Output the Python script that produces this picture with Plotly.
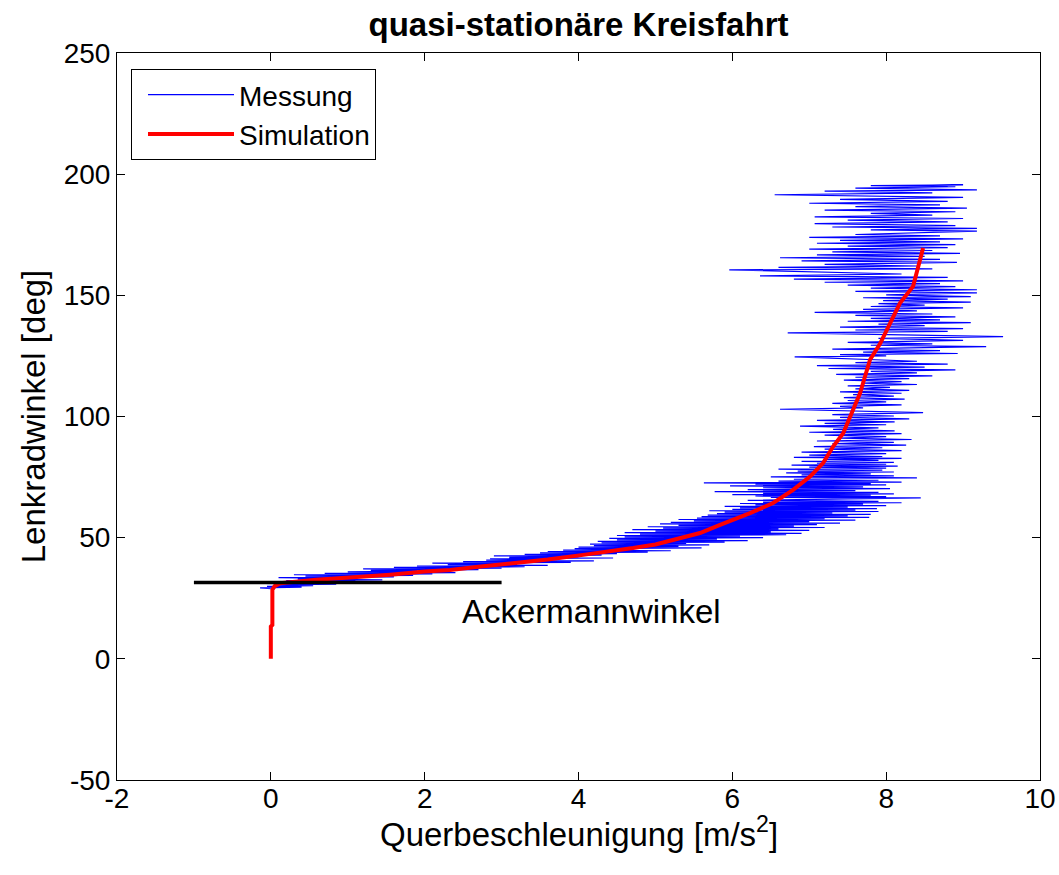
import plotly.graph_objects as go

# ---------------- data ----------------
meas_x = [
    0.00, -0.14, 0.40, -0.05, 0.55, 0.05, 0.85, -0.10, 0.70, 0.15,
    1.10, 0.20, 1.45, 0.35, 0.95, 0.10, 1.60, 0.45, 1.85, 0.30,
    2.10, 0.70, 2.40, 1.00, 1.90, 1.30, 2.70, 1.20, 3.00, 1.60,
    3.30, 1.90, 3.60, 2.30, 3.20, 2.10, 3.90, 2.50, 4.20, 2.80,
    3.70, 2.85, 4.45, 3.10, 4.00, 2.90, 4.30, 3.30, 4.50, 3.50,
    4.90, 3.60, 5.20, 3.80, 4.70, 3.95, 5.60, 4.00, 5.30, 4.20,
    5.70, 4.15, 5.40, 4.30, 5.90, 4.25, 6.20, 4.50, 5.80, 4.40,
    6.40, 4.60, 6.10, 4.50, 6.70, 4.80, 6.90, 4.60, 6.50, 5.00,
    7.00, 4.70, 6.60, 5.10, 7.20, 4.90, 6.80, 5.30, 7.10, 5.06,
    7.40, 5.20, 7.00, 5.50, 7.60, 5.30, 7.20, 5.54, 7.78, 5.60,
    7.50, 5.68, 7.80, 5.80, 7.30, 5.90, 7.90, 5.70, 7.60, 6.00,
    7.88, 6.10, 7.50, 5.90, 8.00, 6.30, 7.70, 6.10, 8.20, 6.40,
    7.90, 6.20, 8.45, 6.50, 8.00, 6.30, 7.80, 6.00, 8.10, 6.40,
    7.90, 5.77, 7.60, 6.20, 8.05, 6.40, 7.70, 5.97, 8.00, 6.30,
    7.80, 5.63, 8.20, 6.60, 7.90, 6.80, 8.40, 6.50, 8.10, 6.90,
    7.80, 6.70, 8.10, 6.85, 7.95, 6.60, 8.00, 7.00, 8.15, 6.77,
    8.00, 7.10, 8.10, 6.90, 7.90, 7.20, 8.20, 6.80, 7.95, 7.15,
    7.00, 8.00, 6.90, 8.20, 7.20, 7.95, 7.06, 8.26, 7.30, 8.10,
    7.10, 8.33, 7.40, 8.00, 7.20, 8.20, 7.00, 8.11, 7.31, 7.90,
    6.88, 8.00, 7.20, 8.11, 7.10, 8.30, 7.40, 8.10, 7.30, 8.48,
    7.60, 6.62, 7.70, 7.40, 8.20, 7.30, 8.00, 7.50, 8.24, 7.45,
    8.10, 7.57, 8.20, 7.40, 8.30, 7.60, 8.05, 7.50, 8.40, 7.70,
    8.20, 7.45, 8.30, 7.60, 8.60, 7.35, 8.40, 7.80, 8.90, 7.25,
    8.50, 7.10, 8.80, 7.60, 8.40, 6.81, 8.00, 7.40, 8.93, 7.70,
    8.70, 7.30, 9.30, 7.80, 8.60, 7.50, 9.00, 7.90, 9.52, 6.72,
    8.80, 7.60, 9.00, 7.40, 8.50, 7.90, 9.10, 7.50, 8.70, 7.80,
    8.90, 7.60, 8.60, 7.07, 8.40, 7.70, 9.00, 7.80, 8.50, 7.90,
    9.10, 7.96, 8.80, 7.70, 9.10, 8.00, 9.18, 7.60, 9.18, 7.80,
    8.90, 7.50, 8.70, 7.20, 9.00, 6.80, 8.80, 6.36, 8.20, 5.96,
    8.60, 6.60, 8.40, 7.20, 8.92, 6.90, 8.70, 6.62, 8.50, 7.10,
    8.96, 7.30, 8.60, 7.00, 8.80, 7.50, 8.90, 7.10, 8.70, 7.40,
    9.00, 7.00, 8.70, 7.60, 9.18, 7.80, 9.18, 7.30, 8.90, 7.07,
    8.80, 7.50, 9.00, 7.07, 8.60, 7.80, 8.90, 7.20, 9.05, 7.60,
    8.70, 7.00, 8.80, 7.40, 9.00, 6.55, 8.60, 7.20, 9.18, 7.60,
    8.90, 7.80, 9.00, 8.20, 8.80,
]
meas_y = [
    29.0, 29.3, 29.6, 29.9, 30.2, 30.5, 30.8, 31.1, 31.4, 31.7,
    32.0, 32.3, 32.6, 32.9, 33.2, 33.5, 33.8, 34.1, 34.4, 34.7,
    35.0, 35.3, 35.6, 35.9, 36.2, 36.5, 36.8, 37.1, 37.4, 37.7,
    38.0, 38.3, 38.6, 38.9, 39.2, 39.5, 39.8, 40.1, 40.4, 40.7,
    41.0, 41.3, 41.6, 41.9, 42.2, 42.5, 42.8, 43.1, 43.4, 43.7,
    44.0, 44.3, 44.6, 44.9, 45.2, 45.5, 45.8, 46.1, 46.4, 46.7,
    47.0, 47.3, 47.6, 47.9, 48.2, 48.5, 48.8, 49.1, 49.4, 49.7,
    50.0, 50.3, 50.6, 50.9, 51.2, 51.5, 51.8, 52.1, 52.4, 52.7,
    53.0, 53.3, 53.6, 53.9, 54.2, 54.5, 54.8, 55.1, 55.4, 55.7,
    56.0, 56.3, 56.6, 56.9, 57.2, 57.5, 57.8, 58.1, 58.4, 58.7,
    59.0, 59.3, 59.6, 59.9, 60.2, 60.5, 60.8, 61.1, 61.4, 61.7,
    62.0, 62.3, 62.6, 62.9, 63.2, 63.5, 63.8, 64.1, 64.4, 64.7,
    65.0, 65.4, 66.4, 66.6, 66.9, 67.2, 67.5, 67.8, 68.1, 68.4,
    68.7, 69.0, 69.4, 69.8, 70.2, 70.6, 71.0, 71.4, 71.8, 72.1,
    72.3, 72.6, 72.9, 73.3, 73.7, 74.1, 74.7, 75.1, 75.5, 75.9,
    76.3, 76.7, 77.1, 77.5, 77.9, 78.3, 78.7, 79.1, 79.5, 79.9,
    80.3, 80.7, 81.1, 81.5, 81.9, 82.3, 82.7, 83.1, 83.5, 83.8,
    84.1, 84.7, 85.3, 85.9, 86.5, 87.1, 87.6, 88.2, 88.8, 89.3,
    89.9, 90.5, 91.1, 91.7, 92.3, 92.9, 93.5, 94.1, 94.7, 95.3,
    96.0, 96.6, 97.2, 97.8, 98.4, 99.0, 99.6, 100.2, 100.8, 101.6,
    102.2, 103.0, 103.6, 104.2, 104.8, 105.4, 106.0, 106.6, 107.2, 107.8,
    108.4, 109.0, 109.6, 110.2, 110.8, 111.4, 112.0, 112.6, 113.2, 113.8,
    114.4, 115.0, 115.6, 116.2, 116.8, 117.4, 118.0, 118.6, 119.2, 119.8,
    120.4, 121.0, 121.6, 122.2, 122.8, 124.6, 125.0, 125.5, 126.0, 126.6,
    127.2, 127.8, 128.8, 129.4, 130.0, 130.6, 131.4, 132.2, 133.0, 134.5,
    135.1, 135.7, 136.3, 136.9, 137.5, 138.1, 138.7, 139.3, 139.9, 140.5,
    141.1, 141.7, 142.3, 143.0, 143.6, 144.2, 144.8, 145.4, 146.0, 146.6,
    147.2, 147.8, 148.4, 149.0, 149.5, 150.2, 151.0, 151.6, 152.3, 153.0,
    153.6, 154.2, 154.8, 155.4, 156.0, 156.7, 157.4, 158.0, 158.8, 160.5,
    160.9, 161.5, 162.1, 162.8, 163.6, 164.2, 164.8, 165.5, 166.1, 166.7,
    167.3, 167.9, 168.5, 169.1, 169.7, 170.3, 170.9, 171.5, 172.1, 172.7,
    173.3, 173.9, 174.5, 175.1, 176.5, 177.0, 177.6, 178.2, 178.8, 179.6,
    180.3, 181.0, 181.7, 182.4, 183.1, 183.8, 184.5, 185.2, 186.0, 186.6,
    187.3, 188.0, 188.8, 189.6, 190.4, 191.5, 192.3, 193.0, 193.5, 194.2,
    194.8, 195.3, 195.6, 195.2, 195.0,
]

sim_x = [0.00, 0.00, 0.02, 0.02, 0.05, 0.12, 0.59, 1.00, 1.55, 2.00,
         2.33, 2.70, 3.19, 3.60, 4.06, 4.40, 4.71, 5.00, 5.30, 5.58,
         5.84, 6.03, 6.23, 6.53, 6.79, 7.01, 7.18, 7.31, 7.44, 7.57,
         7.66, 7.72, 7.79, 7.92, 8.05, 8.18, 8.35, 8.42, 8.48]
sim_y = [0.0, 13.3, 14.0, 28.5, 30.0, 31.2, 32.6, 33.4, 34.7, 36.0,
         36.7, 38.0, 39.5, 41.0, 42.9, 44.2, 45.7, 47.2, 49.5, 51.9,
         55.3, 57.5, 60.1, 64.3, 69.7, 75.2, 80.8, 87.6, 93.0, 102.8,
         109.6, 116.0, 123.4, 130.0, 138.0, 146.8, 153.7, 162.0, 169.5]

ackermann_x = [-1.0, 3.0]
ackermann_y = [31.5, 31.5]
ackermann_label = "Ackermannwinkel"
ackermann_label_pos = (4.17, 19.5)

x_ticks = [-2, 0, 2, 4, 6, 8, 10]
y_ticks = [-50, 0, 50, 100, 150, 200, 250]

FONT = "Liberation Sans, Arial, Helvetica, sans-serif"
W, H = 1059, 875
M_L, M_R, M_T, M_B = 117, 19, 53, 95

fig = go.Figure()
fig.add_trace(go.Scatter(x=meas_x, y=meas_y, mode="lines", name="Messung",
                         line=dict(color="#0000ff", width=1.2)))
fig.add_trace(go.Scatter(x=sim_x, y=sim_y, mode="lines", name="Simulation",
                         line=dict(color="#ff0000", width=4)))
fig.add_trace(go.Scatter(x=ackermann_x, y=ackermann_y, mode="lines", showlegend=False,
                         line=dict(color="#000000", width=3.5)))

fig.add_annotation(x=ackermann_label_pos[0], y=ackermann_label_pos[1], text=ackermann_label,
                   showarrow=False, xanchor="center", yanchor="middle",
                   font=dict(family=FONT, size=33, color="black"))

# x-axis title placed as paper annotation to sit tight under the tick labels
plot_h = H - M_T - M_B
fig.add_annotation(x=0.5, xref="paper", y=-(832 - (H - M_B)) / plot_h, yref="paper",
                   text="Querbeschleunigung [m/s<sup>2</sup>]", showarrow=False,
                   xanchor="center", yanchor="middle",
                   font=dict(family=FONT, size=33, color="black"))

axis_common = dict(showline=True, linecolor="black", linewidth=1, mirror="ticks",
                   ticks="inside", ticklen=8, tickcolor="black", showgrid=False,
                   zeroline=False, ticklabeloverflow="allow",
                   tickfont=dict(family=FONT, size=28, color="black"))

fig.update_xaxes(range=[-2, 10], tickvals=x_ticks, ticktext=[str(v) for v in x_ticks],
                 ticklabelstandoff=-7, **axis_common)
fig.update_yaxes(range=[-50, 250], tickvals=y_ticks, ticktext=[str(v) for v in y_ticks],
                 title=dict(text="Lenkradwinkel [deg]",
                            font=dict(family=FONT, size=33, color="black"), standoff=8),
                 **axis_common)

fig.update_layout(
    width=W, height=H,
    margin=dict(l=M_L, r=M_R, t=M_T, b=M_B, autoexpand=False),
    paper_bgcolor="white", plot_bgcolor="white",
    title=dict(text="<b>quasi-stationäre Kreisfahrt</b>", x=0.5, xref="paper",
               y=1 - 24 / H, yref="container", xanchor="center", yanchor="middle",
               font=dict(family=FONT, size=33, color="black")),
    legend=dict(x=14 / (W - M_L - M_R), y=1 - 16 / plot_h, xanchor="left", yanchor="top",
                bgcolor="white", bordercolor="black", borderwidth=1,
                font=dict(family=FONT, size=28, color="black"),
                itemwidth=86, tracegroupgap=0, indentation=11),
    showlegend=True,
)

fig.write_html("out.html", config={"displayModeBar": False},
               post_script="document.body.style.margin='0';"
                           "document.documentElement.style.overflow='hidden';")
